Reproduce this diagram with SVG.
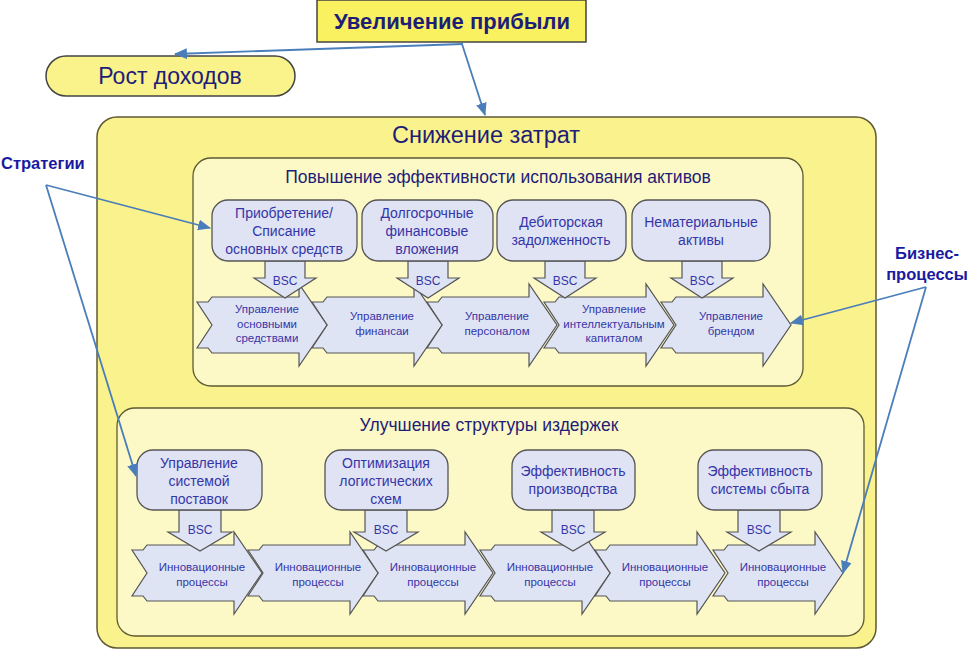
<svg xmlns="http://www.w3.org/2000/svg" xmlns:xlink="http://www.w3.org/1999/xlink" width="970" height="656" viewBox="0 0 970 656">
<style>
text{font-family:"Liberation Sans",Arial,sans-serif}
.node{fill:#dfe3f4;stroke:#555;stroke-width:1.3}
.chev{fill:#dfe4f4;stroke:#555;stroke-width:1.2}
.bsc{fill:#dfe4f4;stroke:#555;stroke-width:1.2}
.nt{font-size:14px;fill:#3535a8;text-anchor:middle}
.ct{font-size:11.5px;fill:#3535a8;text-anchor:middle}
.bt{font-size:12px;fill:#3535a8;text-anchor:middle}
.title{fill:#1e1e78;text-anchor:middle}
.lab{font-size:16.5px;font-weight:bold;fill:#1a1aa0}
.con{stroke:#4a7ebb;stroke-width:1.8;fill:none}
</style>
<defs>
<marker id="ah" viewBox="0 0 12 10" refX="11" refY="5" markerWidth="13" markerHeight="11" markerUnits="userSpaceOnUse" orient="auto">
<path d="M0,0 L12,5 L0,10 z" fill="#4a7ebb"/>
</marker>
<polygon id="chv" class="chev" points="0,-23 11,-23 15,-28 102,-28 102,-41 130,0 102,41 102,28 15,28 11,23 0,23 15,0"/>
<polygon id="bsc1" class="bsc" points="-20,0 20,0 20,17 31,17 0,37 -31,17 -20,17"/>
<polygon id="bsc2" class="bsc" points="-21,0 21,0 21,22 32,22 0,41 -32,22 -21,22"/>
</defs>

<g id="outer">
<rect x="97" y="117" width="779" height="531" rx="20" fill="#faf28c" stroke="#5e5a34" stroke-width="1.5"/>
<text class="title" x="486" y="143" font-size="23.5">Снижение затрат</text>
</g>

<g id="group-assets">
<rect x="193" y="158" width="610" height="228" rx="18" fill="#fcf9c6" stroke="#5e5a34" stroke-width="1.3"/>
<text class="title" x="498" y="183" font-size="17.5">Повышение эффективности использования активов</text>
</g>

<g id="group-costs">
<rect x="117" y="408" width="747" height="228" rx="18" fill="#fcf9c6" stroke="#5e5a34" stroke-width="1.3"/>
<text class="title" x="489" y="431" font-size="17.5">Улучшение структуры издержек</text>
</g>

<g id="top">
<rect x="317" y="0" width="269" height="42" fill="#f9f160" stroke="#444" stroke-width="1.5"/>
<text class="title" x="452" y="29" font-size="22" font-weight="bold" fill="#1a1a80">Увеличение прибыли</text>
</g>

<g id="revenue">
<rect x="46" y="56" width="249" height="40" rx="20" fill="#faf28a" stroke="#444" stroke-width="1.5"/>
<text class="title" x="170" y="84" font-size="23">Рост доходов</text>
</g>

<!-- row 1 process chevrons (later drawn first so earlier on top) -->
<g id="p5"><use xlink:href="#chv" x="661" y="325"/><text class="ct" x="731" y="320">Управление</text><text class="ct" x="731" y="335">брендом</text></g>
<g id="p4"><use xlink:href="#chv" x="544" y="325"/><text class="ct" x="614" y="313">Управление</text><text class="ct" x="614" y="327.5">интеллектуальным</text><text class="ct" x="614" y="342">капиталом</text></g>
<g id="p3"><use xlink:href="#chv" x="427" y="325"/><text class="ct" x="497" y="320">Управление</text><text class="ct" x="497" y="335">персоналом</text></g>
<g id="p2"><use xlink:href="#chv" x="312" y="325"/><text class="ct" x="382" y="320">Управление</text><text class="ct" x="382" y="335">финансаи</text></g>
<g id="p1"><use xlink:href="#chv" x="197" y="325"/><text class="ct" x="267" y="313">Управление</text><text class="ct" x="267" y="327.5">основными</text><text class="ct" x="267" y="342">средствами</text></g>

<!-- row 2 process chevrons -->
<g id="q6"><use xlink:href="#chv" x="713" y="573"/><text class="ct" x="783" y="571">Инновационные</text><text class="ct" x="783" y="586">процессы</text></g>
<g id="q5"><use xlink:href="#chv" x="595" y="573"/><text class="ct" x="665" y="571">Инновационные</text><text class="ct" x="665" y="586">процессы</text></g>
<g id="q4"><use xlink:href="#chv" x="480" y="573"/><text class="ct" x="550" y="571">Инновационные</text><text class="ct" x="550" y="586">процессы</text></g>
<g id="q3"><use xlink:href="#chv" x="363" y="573"/><text class="ct" x="433" y="571">Инновационные</text><text class="ct" x="433" y="586">процессы</text></g>
<g id="q2"><use xlink:href="#chv" x="248" y="573"/><text class="ct" x="318" y="571">Инновационные</text><text class="ct" x="318" y="586">процессы</text></g>
<g id="q1"><use xlink:href="#chv" x="132" y="573"/><text class="ct" x="202" y="571">Инновационные</text><text class="ct" x="202" y="586">процессы</text></g>

<!-- BSC arrows -->
<g id="bsc-r1">
<use xlink:href="#bsc1" x="285" y="261"/><text class="bt" x="285" y="285">BSC</text>
<use xlink:href="#bsc1" x="428" y="261"/><text class="bt" x="428" y="285">BSC</text>
<use xlink:href="#bsc1" x="565" y="261"/><text class="bt" x="565" y="285">BSC</text>
<use xlink:href="#bsc1" x="702" y="261"/><text class="bt" x="702" y="285">BSC</text>
</g>
<g id="bsc-r2">
<use xlink:href="#bsc2" x="200" y="510"/><text class="bt" x="200" y="534">BSC</text>
<use xlink:href="#bsc2" x="386" y="510"/><text class="bt" x="386" y="534">BSC</text>
<use xlink:href="#bsc2" x="573" y="510"/><text class="bt" x="573" y="534">BSC</text>
<use xlink:href="#bsc2" x="759" y="510"/><text class="bt" x="759" y="534">BSC</text>
</g>

<!-- row 1 nodes -->
<g id="n1"><rect class="node" x="212" y="200" width="145" height="61" rx="16"/>
<text class="nt" x="284" y="218">Приобретение/</text><text class="nt" x="284" y="236">Списание</text><text class="nt" x="284" y="254">основных средств</text></g>
<g id="n2"><rect class="node" x="362" y="200" width="131" height="61" rx="16"/>
<text class="nt" x="427" y="218">Долгосрочные</text><text class="nt" x="427" y="236">финансовые</text><text class="nt" x="427" y="254">вложения</text></g>
<g id="n3"><rect class="node" x="497" y="200" width="129" height="61" rx="16"/>
<text class="nt" x="561" y="227">Дебиторская</text><text class="nt" x="561" y="245">задолженность</text></g>
<g id="n4"><rect class="node" x="632" y="200" width="138" height="61" rx="16"/>
<text class="nt" x="701" y="227">Нематериальные</text><text class="nt" x="701" y="245">активы</text></g>

<!-- row 2 nodes -->
<g id="m1"><rect class="node" x="137" y="450" width="125" height="60" rx="16"/>
<text class="nt" x="199" y="468">Управление</text><text class="nt" x="199" y="486">системой</text><text class="nt" x="199" y="504">поставок</text></g>
<g id="m2"><rect class="node" x="325" y="450" width="123" height="60" rx="16"/>
<text class="nt" x="386" y="468">Оптимизация</text><text class="nt" x="386" y="486">логистических</text><text class="nt" x="386" y="504">схем</text></g>
<g id="m3"><rect class="node" x="512" y="450" width="123" height="60" rx="16"/>
<text class="nt" x="573" y="476">Эффективность</text><text class="nt" x="573" y="494">производства</text></g>
<g id="m4"><rect class="node" x="698" y="450" width="124" height="60" rx="16"/>
<text class="nt" x="760" y="476">Эффективность</text><text class="nt" x="760" y="494">системы сбыта</text></g>

<!-- labels -->
<g id="strategies"><text class="lab" x="1" y="169">Стратегии</text></g>
<g id="business"><text class="lab" x="927" y="259" text-anchor="middle">Бизнес-</text><text class="lab" x="927" y="280" text-anchor="middle">процессы</text></g>

<g id="connectors">
<line class="con" x1="463" y1="44" x2="175" y2="54" marker-end="url(#ah)"/>
<line class="con" x1="462" y1="44" x2="485" y2="115" marker-end="url(#ah)"/>
<line class="con" x1="46" y1="185" x2="210" y2="228" marker-end="url(#ah)"/>
<line class="con" x1="46" y1="185" x2="136" y2="476" marker-end="url(#ah)"/>
<line class="con" x1="926" y1="287" x2="791" y2="323" marker-end="url(#ah)"/>
<line class="con" x1="926" y1="287" x2="843" y2="573" marker-end="url(#ah)"/>
</g>
</svg>
